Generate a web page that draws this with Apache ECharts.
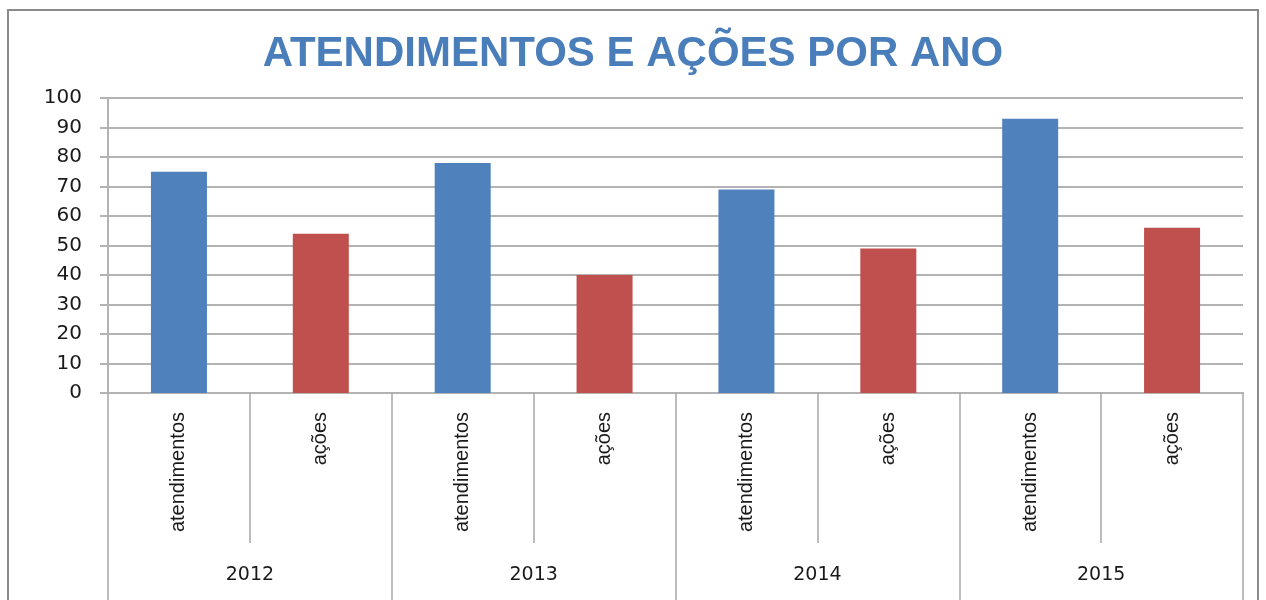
<!DOCTYPE html>
<html>
<head>
<meta charset="utf-8">
<script src="https://cdn.jsdelivr.net/npm/echarts@6/dist/echarts.min.js"></script>
<style>
  html, body { margin: 0; padding: 0; background: #fff; }
  #chart { width: 1266px; height: 600px; }
</style>
</head>
<body>
<div id="chart"></div>
<script>
  // dados
  let anos = ['2012', '2013', '2014', '2015']
  let tipos = ['atendimentos', 'ações']
  let atendimentos = [75, 78, 69, 93]
  let acoes = [54, 40, 49, 56]
  let yTicks = [0, 10, 20, 30, 40, 50, 60, 70, 80, 90, 100]

  let corAtend = '#4F81BD'
  let corAcoes = '#C0504D'
  let cinza = '#b3b3b3'

  // categorias achatadas: ano x tipo
  let categorias = []
  let dados = []
  anos.forEach((ano, i) => {
    categorias.push(tipos[0])
    dados.push({ value: atendimentos[i], itemStyle: { color: corAtend } })
    categorias.push(tipos[1])
    dados.push({ value: acoes[i], itemStyle: { color: corAcoes } })
  })

  let chart = echarts.init(document.getElementById('chart'))
  chart.setOption({
    animation: false,
    title: {
      text: 'ATENDIMENTOS E AÇÕES POR ANO',
      left: 'center',
      top: 28,
      textStyle: {
        color: '#4a7ebb',
        fontFamily: 'Liberation Sans',
        fontWeight: 'bold',
        fontSize: 42
      }
    },
    graphic: [{
      type: 'rect',
      shape: { x: 8, y: 10, width: 1250, height: 600 },
      style: { fill: 'none', stroke: '#8a8a8a', lineWidth: 2 },
      silent: true
    }],
    grid: {
      left: 108,
      right: 23,
      top: 98,
      bottom: 207,
      containLabel: false
    },
    xAxis: [{
      type: 'category',
      position: 'bottom',
      data: categorias,
      axisLine: { lineStyle: { color: cinza, width: 2 } },
      axisTick: { show: true, interval: 0, length: 150, lineStyle: { color: '#a6a6a6', width: 1.5 } },
      axisLabel: {
        interval: 0,
        rotate: 90,
        margin: 19,
        color: '#1a1a1a',
        fontFamily: 'Liberation Sans',
        fontSize: 20
      }
    }, {
      type: 'category',
      position: 'bottom',
      data: anos,
      axisLine: { lineStyle: { color: cinza, width: 2 } },
      axisTick: { show: true, interval: 0, length: 210, lineStyle: { color: '#a6a6a6', width: 1.5 } },
      axisLabel: {
        interval: 0,
        margin: 173,
        color: '#1a1a1a',
        fontFamily: 'DejaVu Sans',
        fontSize: 19
      }
    }],
    yAxis: {
      type: 'value',
      min: yTicks[0],
      max: yTicks[yTicks.length - 1],
      interval: 10,
      axisLine: { show: true, lineStyle: { color: cinza, width: 2 } },
      axisTick: { show: true, length: 8, lineStyle: { color: cinza, width: 2 } },
      axisLabel: {
        margin: 26,
        color: '#1a1a1a',
        fontFamily: 'DejaVu Sans',
        fontSize: 20
      },
      splitLine: { lineStyle: { color: cinza, width: 2 } }
    },
    series: [{
      type: 'bar',
      xAxisIndex: 0,
      barWidth: 56,
      data: dados
    }]
  })
</script>
</body>
</html>
